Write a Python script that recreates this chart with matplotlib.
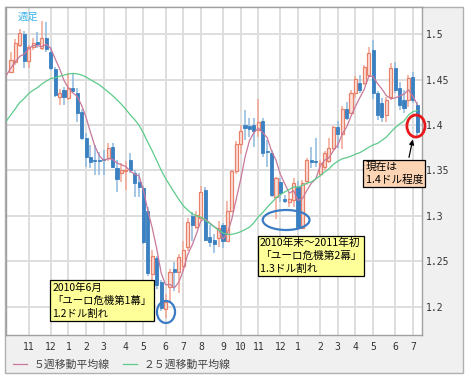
import numpy as np
import pandas as pd
import matplotlib
matplotlib.use('Agg')
import matplotlib.pyplot as plt
from matplotlib.patches import Rectangle, Ellipse

plt.rcParams['font.family'] = ['Noto Sans CJK JP', 'DejaVu Sans']

# ---------------- data ----------------
start_date = '2009-10-05'   # first weekly candle

opens = [1.4580, 1.4690, 1.4880, 1.5000, 1.4700, 1.4860, 1.4910, 1.4850, 1.4960, 1.4800,
         1.4620, 1.4310, 1.4380, 1.4300, 1.4410, 1.4350, 1.4140, 1.3860, 1.3650, 1.3615,
         1.3620, 1.3625, 1.3640, 1.3760, 1.3530, 1.3475, 1.3490, 1.3615, 1.3473, 1.3375,
         1.3310, 1.3060, 1.2360, 1.2540, 1.2275, 1.1980, 1.2220, 1.2420, 1.2385, 1.2450,
         1.2660, 1.3000, 1.2880, 1.2980, 1.3285, 1.2770, 1.2740, 1.2760, 1.2900, 1.2730,
         1.3050, 1.3490, 1.3790, 1.4000, 1.3990, 1.4000, 1.3940, 1.4040, 1.3710, 1.3690,
         1.3210, 1.3375, 1.3190, 1.3150, 1.3180, 1.3320, 1.2870, 1.3380, 1.3620, 1.3600,
         1.3460, 1.3540, 1.3600, 1.3750, 1.3980, 1.3900, 1.4180, 1.4130, 1.4350, 1.4460,
         1.4460, 1.4550, 1.4824, 1.4352, 1.4242, 1.4110, 1.4308, 1.4626, 1.4407, 1.4275,
         1.4275, 1.4527, 1.4220]
highs = [1.4800, 1.4950, 1.5060, 1.5030, 1.4880, 1.4960, 1.5020, 1.5140, 1.5130, 1.4860,
         1.4640, 1.4400, 1.4420, 1.4570, 1.4570, 1.4410, 1.4180, 1.3910, 1.3780, 1.3780,
         1.3700, 1.3720, 1.3800, 1.3800, 1.3615, 1.3580, 1.3600, 1.3690, 1.3500, 1.3470,
         1.3330, 1.3094, 1.2630, 1.2560, 1.2300, 1.2140, 1.2420, 1.2490, 1.2580, 1.2720,
         1.2980, 1.3040, 1.3060, 1.3330, 1.3320, 1.2900, 1.2800, 1.2940, 1.2920, 1.3160,
         1.3510, 1.3820, 1.4000, 1.4160, 1.4080, 1.4080, 1.4282, 1.4080, 1.3840, 1.3725,
         1.3430, 1.3420, 1.3230, 1.3250, 1.3420, 1.3380, 1.3400, 1.3640, 1.3760, 1.3860,
         1.3620, 1.3710, 1.3860, 1.3990, 1.4040, 1.4210, 1.4250, 1.4380, 1.4540, 1.4550,
         1.4660, 1.4860, 1.4934, 1.4370, 1.4300, 1.4310, 1.4680, 1.4690, 1.4470, 1.4380,
         1.4549, 1.4580, 1.4250]
lows = [1.4570, 1.4660, 1.4860, 1.4630, 1.4630, 1.4820, 1.4850, 1.4825, 1.4800, 1.4600,
        1.4310, 1.4220, 1.4220, 1.4275, 1.4360, 1.4030, 1.3840, 1.3540, 1.3530, 1.3450,
        1.3450, 1.3450, 1.3600, 1.3530, 1.3265, 1.3374, 1.3290, 1.3475, 1.3210, 1.3210,
        1.2690, 1.2340, 1.2180, 1.2200, 1.1960, 1.1876, 1.2050, 1.2180, 1.2150, 1.2400,
        1.2610, 1.2720, 1.2860, 1.2960, 1.2730, 1.2660, 1.2590, 1.2660, 1.2650, 1.2720,
        1.3040, 1.3460, 1.3680, 1.3830, 1.3870, 1.3760, 1.3870, 1.3650, 1.3540, 1.3210,
        1.2970, 1.3150, 1.3140, 1.3100, 1.3100, 1.2870, 1.2860, 1.3340, 1.3530, 1.3540,
        1.3430, 1.3500, 1.3580, 1.3730, 1.3750, 1.3740, 1.4050, 1.4120, 1.4300, 1.4350,
        1.4440, 1.4530, 1.4290, 1.4055, 1.4033, 1.4030, 1.4270, 1.4350, 1.4165, 1.4130,
        1.4198, 1.4240, 1.3880]
closes = [1.4714, 1.4900, 1.5010, 1.4700, 1.4860, 1.4900, 1.4890, 1.4960, 1.4830, 1.4630,
          1.4330, 1.4350, 1.4310, 1.4410, 1.4370, 1.4130, 1.3860, 1.3650, 1.3590, 1.3605,
          1.3605, 1.3610, 1.3750, 1.3540, 1.3410, 1.3505, 1.3510, 1.3505, 1.3363, 1.3320,
          1.2715, 1.2370, 1.2560, 1.2240, 1.1990, 1.2060, 1.2385, 1.2380, 1.2550, 1.2630,
          1.2930, 1.2900, 1.3010, 1.3265, 1.2735, 1.2710, 1.2690, 1.2870, 1.2730, 1.3050,
          1.3490, 1.3790, 1.3935, 1.3970, 1.3960, 1.3930, 1.4030, 1.3690, 1.3700, 1.3230,
          1.3420, 1.3250, 1.3170, 1.3190, 1.3360, 1.2880, 1.3360, 1.3610, 1.3590, 1.3590,
          1.3580, 1.3690, 1.3750, 1.3980, 1.3900, 1.4180, 1.4080, 1.4350, 1.4510, 1.4385,
          1.4637, 1.4790, 1.4352, 1.4110, 1.4088, 1.4275, 1.4626, 1.4385, 1.4220, 1.4187,
          1.4516, 1.4275, 1.3923]

# weekly closes before the first visible candle (feed the moving averages)
prior_closes = [1.3050, 1.3260, 1.3270, 1.3640, 1.3500, 1.3990, 1.4160, 1.3970, 1.4030,
                1.3930, 1.4100, 1.3980, 1.3960, 1.4120, 1.4210, 1.4250, 1.4180, 1.4200,
                1.4330, 1.4300, 1.4320, 1.4570, 1.4710, 1.4580, 1.4570]

y_ticks = [1.2, 1.25, 1.3, 1.35, 1.4, 1.45, 1.5]
y_tick_labels = ['1.2', '1.25', '1.3', '1.35', '1.4', '1.45', '1.5']
legend_labels = ['５週移動平均線', '２５週移動平均線']
corner_label = '週足'
note_first = '2010年6月\n「ユーロ危機第1幕」\n1.2ドル割れ'
note_second = '2010年末～2011年初\n「ユーロ危機第2幕」\n1.3ドル割れ'
note_now = '現在は\n1.4ドル程度'

# ---------------- derived ----------------
n = len(closes)
o = np.array(opens); h = np.array(highs); l = np.array(lows); c = np.array(closes)
x = np.arange(n)
weeks = pd.date_range(start_date, periods=n, freq='7D')
month_pos = [i for i in range(n) if i == 0 or weeks[i].month != weeks[i - 1].month][1:]
month_lab = [str(weeks[i].month) for i in month_pos]

all_c = pd.Series(prior_closes + closes)
npre = len(prior_closes)
ma5 = all_c.rolling(5).mean().to_numpy()
ma25 = all_c.rolling(25).mean().to_numpy()
xa = np.arange(len(all_c)) - npre
keep = xa >= -1

# ---------------- figure ----------------
W, H = 468, 382
fig = plt.figure(figsize=(W / 100, H / 100), dpi=100)
fig.patch.set_facecolor('white')
panel = Rectangle((5 / W, 1 - 373 / H), (463 - 5) / W, (373 - 7) / H,
                  transform=fig.transFigure, fc='#f0f0f0', ec='#b0b0b0', lw=1, zorder=-10)
fig.add_artist(panel)
ax = fig.add_axes([6 / W, 1 - 335 / H, (422 - 6) / W, (335 - 7) / H])
ax.set_zorder(1)
ax.set_facecolor('white')
ax.set_xlim(-1.13, 93.07)
ax.set_ylim(1.1692, 1.5297)

up = c >= o
RED_EDGE, RED_FACE, RED_WICK = '#e8806a', '#fbe0d8', '#f2a592'
BLUE_BODY, BLUE_WICK = '#3b80c0', '#8db9df'
ax.vlines(x, l, h, colors=np.where(up, RED_WICK, BLUE_WICK), lw=1.1, zorder=2)
bottoms = np.minimum(o, c)
heights = np.maximum(np.abs(c - o), 0.0012)
ax.bar(x[up], heights[up], bottom=bottoms[up], width=0.7, color=RED_FACE,
       edgecolor=RED_EDGE, linewidth=0.9, zorder=3)
ax.bar(x[~up], heights[~up], bottom=bottoms[~up], width=0.7, color=BLUE_BODY,
       edgecolor=BLUE_BODY, linewidth=0.6, zorder=3)

l5, = ax.plot(xa[keep], ma5[keep], color='#c8789a', lw=0.9, zorder=4)
l25, = ax.plot(xa[keep], ma25[keep], color='#5ccb8a', lw=0.9, zorder=4)

# axes styling
ax.set_yticks(y_ticks)
ax.set_yticklabels(y_tick_labels, fontfamily='DejaVu Sans Mono')
ax.yaxis.tick_right()
ax.set_xticks(month_pos)
ax.set_xticklabels(month_lab, fontfamily='DejaVu Sans Mono')
ax.tick_params(axis='y', length=0, pad=3, labelsize=7, labelcolor='#333333')
ax.tick_params(axis='x', length=0, pad=5, labelsize=7, labelcolor='#333333')
ax.grid(True, color='#dedede', lw=1.4)
ax.set_axisbelow(True)
for s in ax.spines.values():
    s.set_color('#a0a0a0')
    s.set_linewidth(1)

ax.text(0.027, 0.985, corner_label, transform=ax.transAxes, ha='left', va='top',
        fontsize=7.5, color='#3cb4ec')

# annotations
box_kw = dict(boxstyle='square,pad=0.2', ec='black', lw=0.9)
ax.text(9.4, 1.2270, note_first, ha='left', va='top', fontsize=7.5, linespacing=1.4,
        color='black', bbox=dict(fc='#ffff99', **box_kw), zorder=6)
ax.text(56.4, 1.2760, note_second, ha='left', va='top', fontsize=7.7, linespacing=1.35,
        color='black', bbox=dict(fc='#ffff99', **box_kw), zorder=6)
ax.text(80.3, 1.3595, note_now, ha='left', va='top', fontsize=7.7, linespacing=1.35,
        color='black', bbox=dict(fc='#fdd5b4', **box_kw), zorder=6)

ax.add_patch(Ellipse((35.1, 1.1945), 4.1, 0.0242, fill=False, ec='#3c7cc4', lw=1.6, zorder=5))
ax.add_patch(Ellipse((62.3, 1.2956), 10.6, 0.0220, fill=False, ec='#3c7cc4', lw=1.6, zorder=5))
ax.add_patch(Ellipse((91.7, 1.3989), 4.1, 0.0242, fill=False, ec='#e8191d', lw=2.0,
                     zorder=7, clip_on=False))
ax.annotate('', xy=(91.1, 1.3870), xytext=(90.0, 1.3615),
            arrowprops=dict(arrowstyle='-|>', color='black', lw=0.9, mutation_scale=7),
            zorder=7)

fig.legend(handles=[l5, l25], labels=legend_labels, loc='center left',
           bbox_to_anchor=(13 / W, 1 - 365 / H), ncol=2, frameon=False, fontsize=7.8,
           handlelength=1.3, handletextpad=0.6, columnspacing=1.2, labelcolor='#444444',
           borderaxespad=0, borderpad=0)

fig.savefig('out.png', dpi=100, facecolor='white')
